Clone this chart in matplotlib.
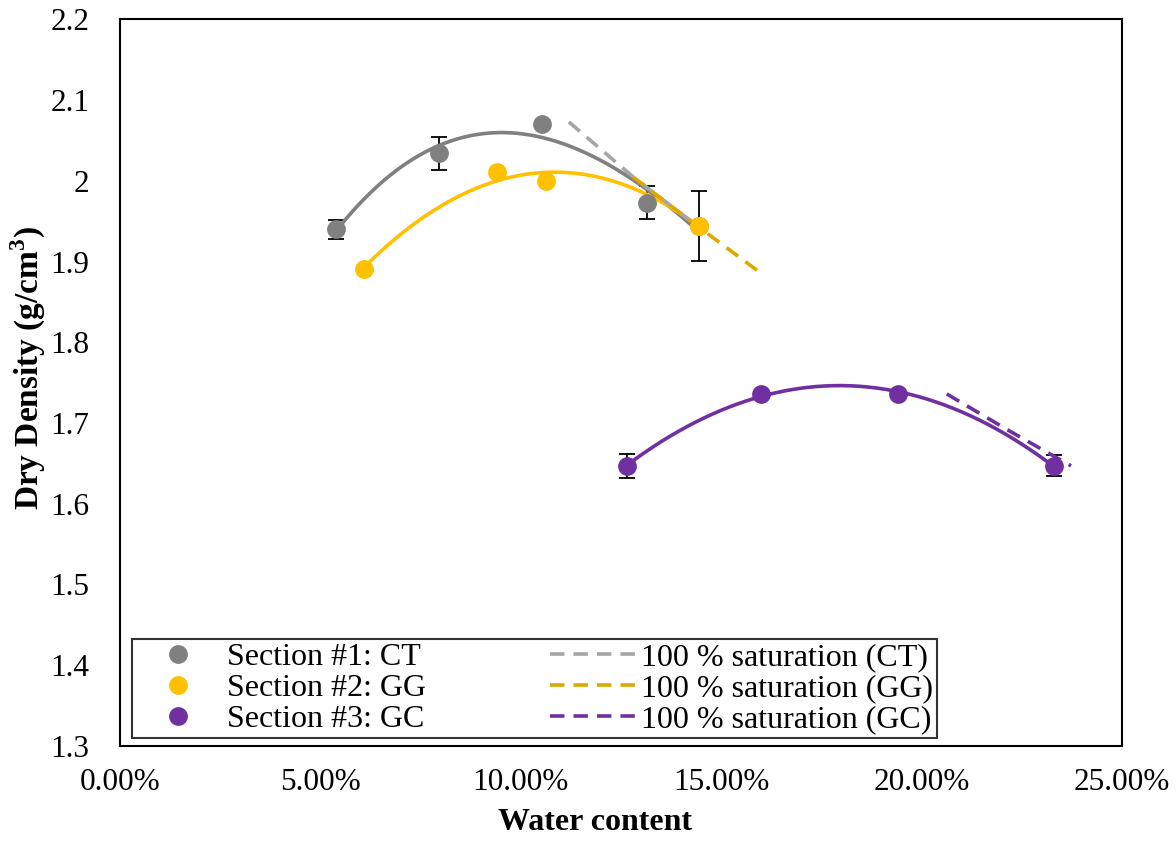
import matplotlib
matplotlib.use("Agg")
import matplotlib.pyplot as plt
from matplotlib.lines import Line2D
import numpy as np

plt.rcParams["font.family"] = ["Liberation Serif", "DejaVu Serif"]
plt.rcParams["mathtext.fontset"] = "custom"
plt.rcParams["mathtext.rm"] = "Liberation Serif"
plt.rcParams["mathtext.bf"] = "Liberation Serif:bold"

# Section #1: CT (water content %, dry density g/cm3, error)
ct_w = [5.39, 7.97, 10.53, 13.15, 14.45]
ct_d = [1.940, 2.034, 2.070, 1.973, 1.944]
ct_err = [0.012, 0.020, 0.003, 0.020, 0.043]

# Section #2: GG
gg_w = [6.09, 9.42, 10.63, 14.46]
gg_d = [1.891, 2.011, 2.000, 1.944]

# Section #3: GC
gc_w = [12.66, 16.00, 19.42, 23.30]
gc_d = [1.647, 1.736, 1.736, 1.647]
gc_err = [0.015, 0.003, 0.003, 0.013]

# 100 % saturation lines
sat_ct_w = [11.2, 12.8, 14.3]
sat_ct_d = [2.073, 2.005, 1.948]
sat_gg_w = [12.8, 14.3, 15.9]
sat_gg_d = [2.005, 1.948, 1.889]
sat_gc_w = [20.63, 22.2, 23.73]
sat_gc_d = [1.736, 1.690, 1.647]

C_CT, C_GG, C_GC = "#808080", "#FFC000", "#7030A0"
C_SAT_CT, C_SAT_GG, C_SAT_GC = "#A5A5A5", "#DDA800", "#7030A0"

fig = plt.figure(figsize=(11.76, 8.41), dpi=100)
ax = fig.add_axes([0.102, 0.113, 0.852, 0.864])


def series(w, d, err, color, order=2):
    w = np.array(w) / 100
    if err is not None:
        ax.errorbar(w, d, yerr=err, fmt="none", ecolor="black",
                    elinewidth=1.3, capsize=6, capthick=1.3, zorder=2)
    coef = np.polyfit(w, d, order)
    xs = np.linspace(w.min(), w.max(), 200)
    ax.plot(xs, np.polyval(coef, xs), color=color, lw=2.6, zorder=3)
    ax.plot(w, d, "o", color=color, ms=12.5, zorder=4)


series(ct_w, ct_d, ct_err, C_CT, order=3)
series(gg_w, gg_d, None, C_GG)
series(gc_w, gc_d, gc_err, C_GC)

dash = (0, (4, 2.5))
for w, d, c in [(sat_ct_w, sat_ct_d, C_SAT_CT), (sat_gg_w, sat_gg_d, C_SAT_GG),
                (sat_gc_w, sat_gc_d, C_SAT_GC)]:
    ax.plot(np.array(w) / 100, d, color=c, lw=2.6, ls=dash, zorder=3.5)

ax.set_xlim(0, 0.25)
ax.set_ylim(1.3, 2.2)
ax.set_xticks(np.arange(0, 0.2501, 0.05))
ax.set_xticklabels([f"{v * 100:.2f}%" for v in np.arange(0, 0.2501, 0.05)])
ax.set_yticks(np.arange(1.3, 2.201, 0.1))
ax.set_yticklabels(["1.3", "1.4", "1.5", "1.6", "1.7", "1.8", "1.9", "2", "2.1", "2.2"])
ax.tick_params(length=0, labelsize=22.5)
ax.tick_params(axis="x", pad=16)
ax.tick_params(axis="y", pad=22)
for s in ax.spines.values():
    s.set_linewidth(1.5)

ax.set_xlabel("Water content", fontsize=23, fontweight="bold", va="top")
ax.xaxis.set_label_coords(0.474, -0.085)
ax.set_ylabel(r"Dry Density (g/cm$^\mathbf{3}$)", fontsize=24, fontweight="bold")
ax.yaxis.set_label_coords(-0.072, 0.521)

handles = [
    Line2D([], [], ls="none", marker="o", ms=12.5, color=C_CT),
    Line2D([], [], ls="none", marker="o", ms=12.5, color=C_GG),
    Line2D([], [], ls="none", marker="o", ms=12.5, color=C_GC),
    Line2D([], [], color=C_SAT_CT, lw=2.6, ls=dash),
    Line2D([], [], color=C_SAT_GG, lw=2.6, ls=dash),
    Line2D([], [], color=C_SAT_GC, lw=2.6, ls=dash),
]
labels = ["Section #1: CT", "Section #2: GG", "Section #3: GC",
          "100 % saturation (CT)", "100 % saturation (GG)", "100 % saturation (GC)"]
leg = ax.legend(handles, labels, ncol=2, fontsize=23, loc="lower left",
                bbox_to_anchor=(0.012, 0.011), frameon=True, fancybox=False,
                edgecolor="black", handlelength=2.65, handletextpad=0.2,
                labelspacing=0.05, columnspacing=3.9, borderpad=0.12,
                borderaxespad=0)
leg.get_frame().set_linewidth(1.5)

fig.savefig("out.png", dpi=100)
